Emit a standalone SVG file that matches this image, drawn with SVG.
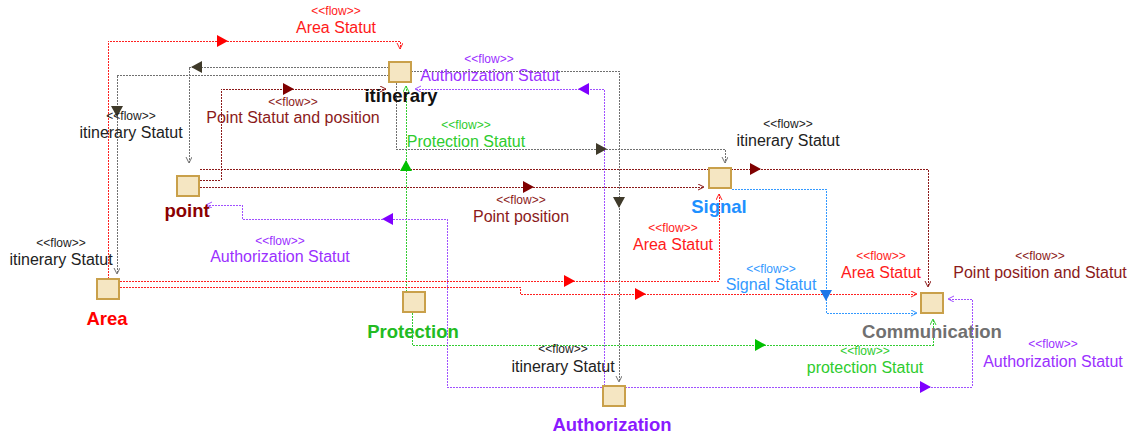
<svg xmlns="http://www.w3.org/2000/svg" xmlns:xlink="http://www.w3.org/1999/xlink" width="1134" height="438" viewBox="0 0 1134 438">
<style>
.c{fill:none;stroke-width:1;stroke-dasharray:2 1;shape-rendering:crispEdges}
.red{stroke:#FF2020}.dred{stroke:#8B1A1A}.olv{stroke:#707070}.grn{stroke:#33CC33}.blu{stroke:#3399FF}.pur{stroke:#A050FF}
.box{fill:#F5E6C2;stroke:#C9A04A;stroke-width:2}
.fl{font-family:"Liberation Sans",Arial,sans-serif;font-size:12px;text-anchor:middle}
.lb{font-family:"Liberation Sans",Arial,sans-serif;font-size:16px;text-anchor:middle}
.nl{font-family:"Liberation Sans",Arial,sans-serif;font-size:18.5px;font-weight:bold;text-anchor:middle}
.tR{fill:#FF1A1A}.tD{fill:#8B1A1A}.tK{fill:#222222}.tG{fill:#2ECC2E}.tB{fill:#3399FF}.tP{fill:#9B30FF}
</style>
<defs>
<path id="tri" d="M-5,-6 L6,0 L-5,6 Z"/>
<marker id="aR" markerWidth="8" markerHeight="8" refX="6" refY="3" orient="auto" markerUnits="userSpaceOnUse"><path d="M0,0 L6,3 L0,6" fill="none" stroke="#FF2020"/></marker>
<marker id="aD" markerWidth="8" markerHeight="8" refX="6" refY="3" orient="auto" markerUnits="userSpaceOnUse"><path d="M0,0 L6,3 L0,6" fill="none" stroke="#8B1A1A"/></marker>
<marker id="aO" markerWidth="8" markerHeight="8" refX="6" refY="3" orient="auto" markerUnits="userSpaceOnUse"><path d="M0,0 L6,3 L0,6" fill="none" stroke="#707070"/></marker>
<marker id="aG" markerWidth="8" markerHeight="8" refX="6" refY="3" orient="auto" markerUnits="userSpaceOnUse"><path d="M0,0 L6,3 L0,6" fill="none" stroke="#33CC33"/></marker>
<marker id="aB" markerWidth="8" markerHeight="8" refX="6" refY="3" orient="auto" markerUnits="userSpaceOnUse"><path d="M0,0 L6,3 L0,6" fill="none" stroke="#3399FF"/></marker>
<marker id="aP" markerWidth="8" markerHeight="8" refX="6" refY="3" orient="auto" markerUnits="userSpaceOnUse"><path d="M0,0 L6,3 L0,6" fill="none" stroke="#A050FF"/></marker>
</defs>
<rect width="1134" height="438" fill="#FFFFFF"/>
<g id="connectors">
<!-- C1 Area -> itinerary -->
<path class="c red" d="M108,279 V41 H400 V49" marker-end="url(#aR)"/>
<use href="#tri" transform="translate(222,41)" fill="#FF0000"/>
<!-- C2 itinerary -> point -->
<path class="c olv" d="M389,67 H189 V163" marker-end="url(#aO)"/>
<use href="#tri" transform="translate(197,67) rotate(180)" fill="#3F3A2A"/>
<!-- C3 itinerary -> Area -->
<path class="c olv" d="M389,75 H117 V274" marker-end="url(#aO)"/>
<use href="#tri" transform="translate(117,111) rotate(90)" fill="#3F3A2A"/>
<!-- C4 point -> itinerary -->
<path class="c dred" d="M200,180 H221 V89 H386" marker-end="url(#aD)"/>
<use href="#tri" transform="translate(288,89)" fill="#7F0000"/>
<!-- C5 point -> Signal -->
<path class="c dred" d="M200,187 H704" marker-end="url(#aD)"/>
<use href="#tri" transform="translate(528,187)" fill="#7F0000"/>
<!-- C6 point -> Communication -->
<path class="c dred" d="M200,169 H928 V287" marker-end="url(#aD)"/>
<use href="#tri" transform="translate(755,169)" fill="#7F0000"/>
<!-- C7 Protection -> itinerary -->
<path class="c grn" d="M406,292 V86" marker-end="url(#aG)"/>
<use href="#tri" transform="translate(406,166) rotate(-90)" fill="#00C000"/>
<!-- C8 Protection -> Communication -->
<path class="c grn" d="M412,313 V345 H933 V319" marker-end="url(#aG)"/>
<use href="#tri" transform="translate(760,345)" fill="#00C000"/>
<!-- C9 Area -> Signal -->
<path class="c red" d="M120,281 H719 V194" marker-end="url(#aR)"/>
<use href="#tri" transform="translate(569,281)" fill="#FF0000"/>
<!-- C10 Area -> Communication -->
<path class="c red" d="M120,287 H520 V294 H917" marker-end="url(#aR)"/>
<use href="#tri" transform="translate(640,294)" fill="#FF0000"/>
<!-- C11 Signal -> Communication -->
<path class="c blu" d="M732,189 H826 V313 H917" marker-end="url(#aB)"/>
<use href="#tri" transform="translate(826,295) rotate(90)" fill="#1E78E8"/>
<!-- C12 Authorization -> itinerary -->
<path class="c pur" d="M604,386 V89 H415" marker-end="url(#aP)"/>
<use href="#tri" transform="translate(584,89) rotate(180)" fill="#7F00FF"/>
<!-- C13 Authorization -> point -->
<path class="c pur" d="M602,387 H447 V219 H242 V205 H206" marker-end="url(#aP)"/>
<use href="#tri" transform="translate(388,219) rotate(180)" fill="#7F00FF"/>
<!-- C14 Authorization -> Communication -->
<path class="c pur" d="M625,387 H972 V299 H948" marker-end="url(#aP)"/>
<use href="#tri" transform="translate(925,387)" fill="#7F00FF"/>
<!-- C15 itinerary -> Signal -->
<path class="c olv" d="M396,83 V149 H725 V163" marker-end="url(#aO)"/>
<use href="#tri" transform="translate(601,149)" fill="#3F3A2A"/>
<!-- C16 itinerary -> Authorization -->
<path class="c olv" d="M411,71 H619 V382" marker-end="url(#aO)"/>
<use href="#tri" transform="translate(619,202) rotate(90)" fill="#3F3A2A"/>
</g>
<g id="labels">
<text class="fl tR" x="336" y="15">&lt;&lt;flow&gt;&gt;</text><text class="lb tR" x="336" y="33">Area Statut</text>
<text class="fl tK" x="131" y="120">&lt;&lt;flow&gt;&gt;</text><text class="lb tK" x="131" y="138">itinerary Statut</text>
<text class="fl tK" x="61" y="247">&lt;&lt;flow&gt;&gt;</text><text class="lb tK" x="61" y="265">itinerary Statut</text>
<text class="fl tD" x="293" y="106">&lt;&lt;flow&gt;&gt;</text><text class="lb tD" x="293" y="123">Point Statut and position</text>
<text class="fl tG" x="466" y="129">&lt;&lt;flow&gt;&gt;</text><text class="lb tG" x="466" y="147">Protection Statut</text>
<text class="fl tP" x="489" y="63">&lt;&lt;flow&gt;&gt;</text><text class="lb tP" x="490" y="81">Authorization Statut</text>
<text class="fl tK" x="788" y="128">&lt;&lt;flow&gt;&gt;</text><text class="lb tK" x="788" y="146">itinerary Statut</text>
<text class="fl tD" x="521" y="204">&lt;&lt;flow&gt;&gt;</text><text class="lb tD" x="521" y="222">Point position</text>
<text class="fl tR" x="673" y="232">&lt;&lt;flow&gt;&gt;</text><text class="lb tR" x="673" y="250">Area Statut</text>
<text class="fl tP" x="280" y="245">&lt;&lt;flow&gt;&gt;</text><text class="lb tP" x="280" y="262">Authorization Statut</text>
<text class="fl tB" x="771" y="273">&lt;&lt;flow&gt;&gt;</text><text class="lb tB" x="771" y="290">Signal Statut</text>
<text class="fl tR" x="881" y="260">&lt;&lt;flow&gt;&gt;</text><text class="lb tR" x="881" y="278">Area Statut</text>
<text class="fl tD" x="1040" y="260">&lt;&lt;flow&gt;&gt;</text><text class="lb tD" x="1040" y="278">Point position and Statut</text>
<text class="fl tK" x="563" y="353">&lt;&lt;flow&gt;&gt;</text><text class="lb tK" x="563" y="372">itinerary Statut</text>
<text class="fl tG" x="865" y="355">&lt;&lt;flow&gt;&gt;</text><text class="lb tG" x="865" y="373">protection Statut</text>
<text class="fl tP" x="1053" y="348">&lt;&lt;flow&gt;&gt;</text><text class="lb tP" x="1053" y="367">Authorization Statut</text>
</g>
<g id="itinerary"><rect class="box" x="389" y="62" width="22" height="20"/><text class="nl" x="401" y="102" fill="#111111">itinerary</text></g>
<g id="point"><rect class="box" x="177" y="176" width="22" height="20"/><text class="nl" x="187" y="217" fill="#8B0000">point</text></g>
<g id="area"><rect class="box" x="97" y="279" width="22" height="20"/><text class="nl" x="107" y="325" fill="#FF0000">Area</text></g>
<g id="protection"><rect class="box" x="403" y="292" width="22" height="20"/><text class="nl" x="413" y="338" fill="#22BB22">Protection</text></g>
<g id="signal"><rect class="box" x="709" y="168" width="22" height="20"/><text class="nl" x="719" y="213" fill="#1E90FF">Signal</text></g>
<g id="communication"><rect class="box" x="921" y="293" width="22" height="20"/><text class="nl" x="932" y="338" fill="#707070">Communication</text></g>
<g id="authorization"><rect class="box" x="603" y="386" width="22" height="20"/><text class="nl" x="612" y="431" fill="#8A1AFF">Authorization</text></g>
</svg>
